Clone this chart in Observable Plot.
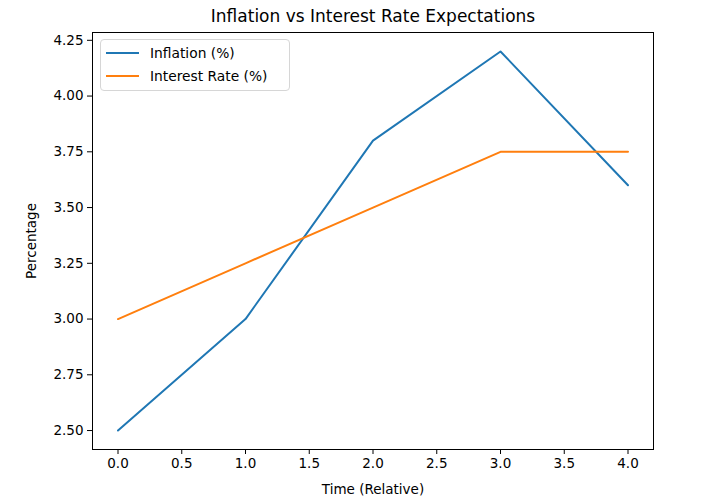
<!DOCTYPE html>
<html>
<head>
<meta charset="utf-8">
<script src="https://cdn.jsdelivr.net/npm/d3@7"></script>
<script src="https://cdn.jsdelivr.net/npm/@observablehq/plot@0.6"></script>
<style>
  html, body { margin: 0; padding: 0; background: #fff; }
  #wrap { position: relative; width: 726px; height: 503px; font-family: "DejaVu Sans", sans-serif; }
  #legend { position: absolute; left: 100px; top: 39px; width: 190px; height: 52px; border: 1px solid #d6d6d6; border-radius: 4px; background: rgba(255,255,255,0.8); box-sizing: border-box; font-size: 13.8px; color: #000; }
  .item { position: absolute; left: 5px; height: 20px; display: flex; align-items: center; }
  .swatch { width: 33px; height: 0; border-top: 2px solid; margin-right: 11px; }
</style>
</head>
<body>
<div id="wrap"></div>
<script>
const time = [0, 1, 2, 3, 4];
const inflation = [2.5, 3.0, 3.8, 4.2, 3.6];
const interestRate = [3.0, 3.25, 3.5, 3.75, 3.75];
const seriesNames = ["Inflation (%)", "Interest Rate (%)"];
const seriesColors = ["#1f77b4", "#ff7f0e"];
const xTicks = [0, 0.5, 1, 1.5, 2, 2.5, 3, 3.5, 4];
const yTicks = [2.5, 2.75, 3.0, 3.25, 3.5, 3.75, 4.0, 4.25];
const title = "Inflation vs Interest Rate Expectations";

const data = [
  ...time.map((t, i) => ({t, v: inflation[i], s: seriesNames[0]})),
  ...time.map((t, i) => ({t, v: interestRate[i], s: seriesNames[1]}))
];

const chart = Plot.plot({
  width: 726,
  height: 503,
  marginLeft: 92,
  marginRight: 73,
  marginTop: 32,
  marginBottom: 54,
  style: {fontFamily: "DejaVu Sans, sans-serif", fontSize: "13.5px", color: "#000", background: "#fff"},
  x: {domain: [-0.2, 4.2], ticks: xTicks, tickFormat: d3.format(".1f"), tickSize: 5, tickPadding: 4, label: "Time (Relative)", labelArrow: "none", labelAnchor: "center", labelOffset: 44},
  y: {domain: [2.415, 4.285], ticks: yTicks, tickFormat: d3.format(".2f"), tickSize: 5, tickPadding: 4, label: "Percentage", labelArrow: "none", labelAnchor: "center", labelOffset: 66},
  color: {domain: seriesNames, range: seriesColors},
  marks: [
    Plot.frame({stroke: "#000", strokeWidth: 1}),
    Plot.line(data, {x: "t", y: "v", stroke: "s", strokeWidth: 2}),
    Plot.text([title], {frameAnchor: "top", dy: -23, text: d => d, fontSize: 17, fill: "#000"})
  ]
});

const wrap = document.getElementById("wrap");
wrap.appendChild(chart);
const legend = document.createElement("div");
legend.id = "legend";
seriesNames.forEach((n, i) => {
  const it = document.createElement("div");
  it.className = "item";
  it.style.top = (3 + i * 23) + "px";
  const sw = document.createElement("div");
  sw.className = "swatch";
  sw.style.borderTopColor = seriesColors[i];
  const lb = document.createElement("span");
  lb.textContent = n;
  it.appendChild(sw); it.appendChild(lb);
  legend.appendChild(it);
});
wrap.appendChild(legend);
</script>
</body>
</html>
